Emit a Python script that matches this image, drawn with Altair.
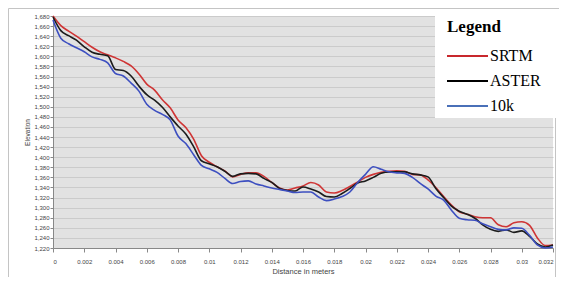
import altair as alt
import pandas as pd

# ---- data ----
dist = [0.0, 0.0005, 0.001, 0.0015, 0.002, 0.0025, 0.003, 0.0035, 0.004, 0.0045,
        0.005, 0.0055, 0.006, 0.0065, 0.007, 0.0075, 0.008, 0.0085, 0.009, 0.0095,
        0.01, 0.0105, 0.011, 0.0115, 0.012, 0.0125, 0.013, 0.0135, 0.014, 0.0145,
        0.015, 0.0155, 0.016, 0.0165, 0.017, 0.0175, 0.018, 0.0185, 0.019, 0.0195,
        0.02, 0.0205, 0.021, 0.0215, 0.022, 0.0225, 0.023, 0.0235, 0.024, 0.0245,
        0.025, 0.0255, 0.026, 0.0265, 0.027, 0.0275, 0.028, 0.0285, 0.029, 0.0295,
        0.03, 0.0305, 0.031, 0.0315, 0.032]

srtm = [1680, 1661, 1650, 1640, 1629, 1618, 1609, 1603, 1597, 1590,
        1581, 1565, 1545, 1533, 1514, 1498, 1474, 1459, 1436, 1403,
        1390, 1381, 1373, 1361, 1366, 1369, 1369, 1362, 1350, 1339,
        1335, 1339, 1343, 1350, 1345, 1331, 1329, 1334, 1342, 1351,
        1360, 1366, 1370, 1372, 1373, 1372, 1366, 1365, 1355, 1340,
        1322, 1305, 1292, 1287, 1282, 1280, 1280, 1266, 1262, 1270,
        1272, 1265, 1240, 1225, 1226]

aster = [1678, 1651, 1641, 1632, 1619, 1608, 1604, 1601, 1574, 1572,
         1561, 1541, 1524, 1513, 1499, 1480, 1462, 1446, 1421, 1393,
         1387, 1381, 1372, 1362, 1367, 1368, 1367, 1358, 1350, 1338,
         1334, 1333, 1341, 1337, 1331, 1322, 1321, 1328, 1338, 1349,
         1353, 1360, 1368, 1371, 1371, 1371, 1367, 1365, 1361, 1338,
         1320, 1303, 1293, 1287, 1279, 1266, 1257, 1253, 1256, 1251,
         1254, 1243, 1228, 1222, 1226]

tenk = [1672, 1636, 1625, 1617, 1609, 1599, 1594, 1587, 1566, 1561,
        1547, 1531, 1505, 1493, 1485, 1474, 1442, 1427, 1405, 1384,
        1377, 1370, 1358, 1348, 1352, 1353, 1347, 1343, 1339, 1336,
        1333, 1330, 1331, 1331, 1321, 1314, 1317, 1322, 1331, 1350,
        1366, 1381, 1376, 1371, 1369, 1368, 1360, 1348, 1337, 1323,
        1315, 1295, 1279, 1276, 1275, 1268, 1262, 1257, 1256, 1260,
        1259, 1245, 1226, 1220, 1222]

series_names = ["SRTM", "ASTER", "10k"]
line_colors = ["#cf3535", "#1c1c1c", "#3d4fc0"]
legend_colors = ["#c8282d", "#000000", "#4a70b8"]

x_ticks = [0, 0.002, 0.004, 0.006, 0.008, 0.01, 0.012, 0.014, 0.016,
           0.018, 0.02, 0.022, 0.024, 0.026, 0.028, 0.03, 0.032]
y_ticks = list(range(1220, 1681, 20))

rows = []
for name, vals in zip(series_names, [srtm, aster, tenk]):
    for d, v in zip(dist, vals):
        rows.append({"dist": d, "elev": v, "series": name})
df = pd.DataFrame(rows)

label_font = "Liberation Sans"
serif = "Liberation Serif"

# outer light frame
frame_color = "#c4c4c4"
one = pd.DataFrame({"k": [0]})
frame_top = alt.Chart(one).mark_rule(color=frame_color, strokeWidth=1).encode(
    x=alt.value(-44.5), x2=alt.value(506), y=alt.value(-7.5))
frame_left = alt.Chart(one).mark_rule(color=frame_color, strokeWidth=1).encode(
    x=alt.value(-44.5), y=alt.value(-7.5), y2=alt.value(261))
frame_right = alt.Chart(one).mark_rule(color=frame_color, strokeWidth=1).encode(
    x=alt.value(502.5), y=alt.value(100), y2=alt.value(261))

lines = alt.Chart(df).mark_line(strokeWidth=1.6, interpolate="monotone").encode(
    x=alt.X("dist:Q",
            scale=alt.Scale(domain=[0, 0.032], nice=False, zero=False),
            axis=alt.Axis(values=x_ticks, format="~g", title="Distance in meters",
                          grid=False, labelFont=label_font, labelFontSize=6,
                          labelColor="#444444", tickSize=4, tickColor="#888888",
                          domainColor="#888888", labelPadding=6,
                          titleFont=label_font, titleFontSize=7.5,
                          titleFontWeight="normal", titleColor="#444444",
                          titlePadding=3)),
    y=alt.Y("elev:Q",
            scale=alt.Scale(domain=[1220, 1680], nice=False, zero=False),
            axis=alt.Axis(values=y_ticks, format=",d", title="Elevation",
                          grid=True, gridColor="#cbcbcb", gridWidth=1,
                          labelFont=label_font, labelFontSize=6,
                          labelColor="#444444", tickSize=3, tickColor="#888888",
                          domainColor="#888888", labelPadding=1,
                          titleFont=label_font, titleFontSize=6.5,
                          titleFontWeight="normal", titleColor="#444444",
                          titlePadding=3)),
    color=alt.Color("series:N",
                    scale=alt.Scale(domain=series_names, range=line_colors),
                    legend=None),
)

# manual legend box (pasted on top of the chart in the reference)
legend_box = alt.Chart(one).mark_rect(color="white").encode(
    x=alt.value(382), x2=alt.value(506), y=alt.value(-6), y2=alt.value(102))
legend_title = alt.Chart(pd.DataFrame({"t": ["Legend"]})).mark_text(
    font=serif, fontSize=17, fontWeight="bold", align="left",
    baseline="alphabetic", color="#000000").encode(
    text="t:N", x=alt.value(394), y=alt.value(16))

legend_layers = []
for i, (name, col) in enumerate(zip(series_names, legend_colors)):
    ly = 40 + i * 25
    legend_layers.append(
        alt.Chart(one).mark_rule(color=col, strokeWidth=2).encode(
            x=alt.value(394), x2=alt.value(435), y=alt.value(ly)))
    legend_layers.append(
        alt.Chart(pd.DataFrame({"t": [name]})).mark_text(
            font=serif, fontSize=16, align="left", baseline="alphabetic",
            color="#000000").encode(
            text="t:N", x=alt.value(437), y=alt.value(ly + 5)))

chart = alt.layer(frame_top, frame_left, frame_right, lines, legend_box,
                  legend_title, *legend_layers).properties(
    width=500, height=232,
    autosize=alt.AutoSizeParams(type="none"),
    padding={"left": 45, "top": 8, "right": 6, "bottom": 29},
).configure_view(fill="#e2e2e2", strokeWidth=0)

chart.save("out.html", embed_options={"renderer": "svg", "actions": False})
